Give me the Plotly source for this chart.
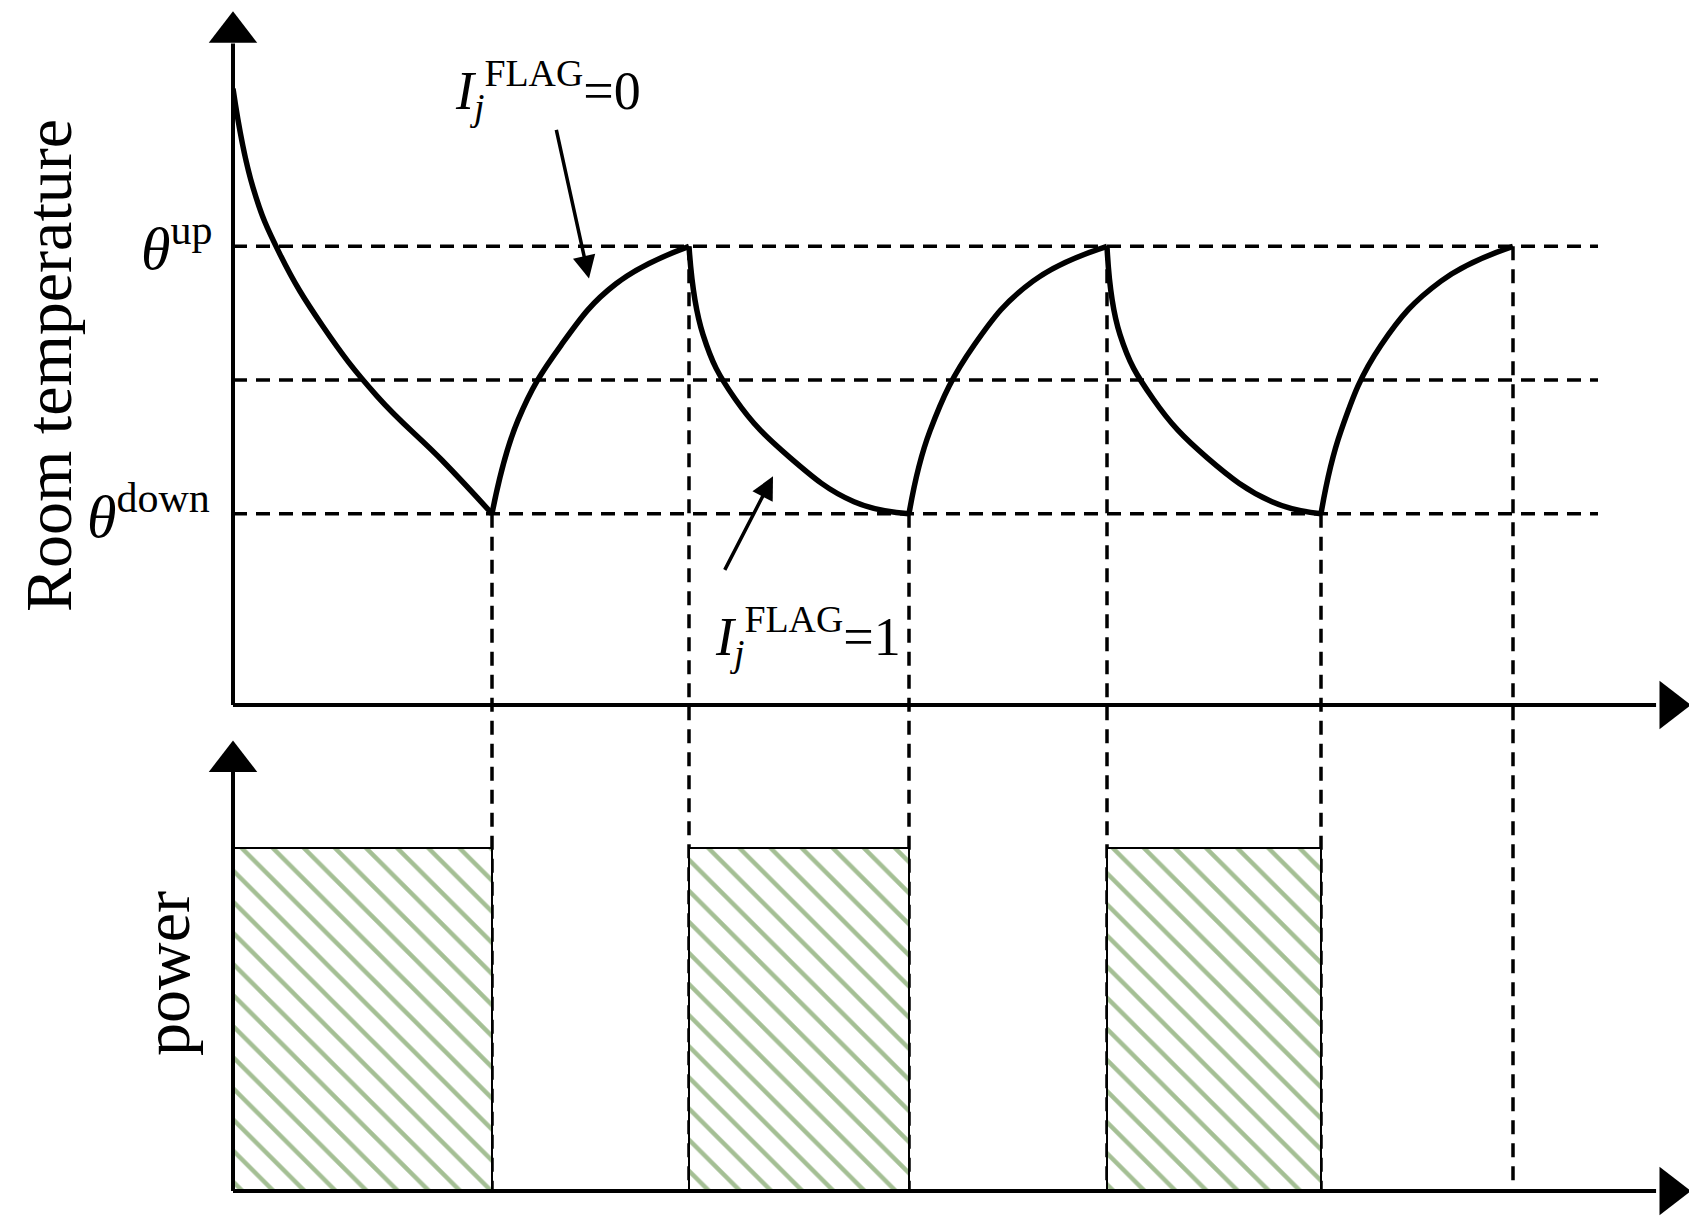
import plotly.graph_objects as go

W, H = 1697, 1220
# switching times (time units) and temperature levels (theta_down=0, theta_up=1)
t_switch = [2.59, 4.56, 6.76, 8.74, 10.88, 12.8]
switch_level = [0, 1, 0, 1, 0, 1]
levels = [1, 0.5, 0]

seg_t = [
    [0, 0.2, 0.47, 0.9, 1.44, 2.09, 2.59],
    [2.59, 2.85, 3.28, 3.83, 4.56],
    [4.56, 4.70, 5.02, 5.57, 6.21, 6.76],
    [6.76, 6.97, 7.41, 8.0, 8.74],
    [8.74, 8.87, 9.2, 9.74, 10.39, 10.88],
    [10.88, 11.08, 11.48, 12.08, 12.8],
]
seg_T = [
    [1.59, 1.22, 0.97, 0.70, 0.44, 0.20, 0],
    [0, 0.35, 0.63, 0.86, 1],
    [1, 0.67, 0.43, 0.21, 0.045, 0],
    [0, 0.31, 0.63, 0.87, 1],
    [1, 0.67, 0.43, 0.21, 0.045, 0],
    [0, 0.31, 0.63, 0.87, 1],
]
on_start = [0, 4.56, 8.74]
on_end = [2.59, 6.76, 10.88]
power_on = 1.0

XR = [0, 14.57]
TR = [-0.715, 1.85]
PR = [0, 1.297]
xd = [225 / W, 1682 / W]
td = [1 - 697 / H, 1 - 11 / H]
pd = [1 - 1183 / H, 1 - 738 / H]

def t_paper(T):
    return td[0] + (T - TR[0]) / (TR[1] - TR[0]) * (td[1] - td[0])

fig = go.Figure()
for ts, Ts in zip(seg_t, seg_T):
    fig.add_trace(go.Scatter(x=ts, y=Ts, mode="lines", line=dict(color="black", width=5.5, shape="spline", smoothing=1.2),
                             xaxis="x", yaxis="y", showlegend=False, hoverinfo="skip"))

fig.add_trace(go.Bar(x=[(a + b) / 2 for a, b in zip(on_start, on_end)], y=[power_on] * 3,
                     width=[b - a for a, b in zip(on_start, on_end)], xaxis="x2", yaxis="y2",
                     marker=dict(color="white", line=dict(color="black", width=2),
                                 pattern=dict(shape="\\", fgcolor="#4a7f2a", bgcolor="#ffffff", size=22, solidity=0.2)),
                     showlegend=False, hoverinfo="skip"))

shapes = []
dash = dict(color="black", width=3.5, dash="14px,9px")
for L in levels:
    shapes.append(dict(type="line", xref="x", yref="y", x0=0, x1=13.65, y0=L, y1=L, line=dash, layer="below"))
for ts, lv in zip(t_switch, switch_level):
    shapes.append(dict(type="line", xref="x", yref="paper", x0=ts, x1=ts, y0=t_paper(lv), y1=pd[0], line=dash, layer="below"))
ax_line = dict(color="black", width=4)
for dom in (td, pd):
    shapes.append(dict(type="line", xref="paper", yref="paper", x0=xd[0], x1=xd[1] - 0.02, y0=dom[0], y1=dom[0], line=ax_line))
    shapes.append(dict(type="line", xref="paper", yref="paper", x0=xd[0], x1=xd[0], y0=dom[0], y1=dom[1] - 0.02, line=ax_line))

for dom in (td, pd):
    top = dom is td
    fig.add_trace(go.Scatter(x=[XR[1] - 0.2], y=[TR[0] if top else 0], mode="markers",
                             xaxis="x" if top else "x2", yaxis="y" if top else "y2",
                             marker=dict(symbol="triangle-right", size=42, color="black"), showlegend=False, cliponaxis=False))
    fig.add_trace(go.Scatter(x=[0], y=[TR[1] - 0.05 if top else PR[1] - 0.045], mode="markers",
                             xaxis="x" if top else "x2", yaxis="y" if top else "y2",
                             marker=dict(symbol="triangle-up", size=42, color="black"), showlegend=False, cliponaxis=False))

serif = "Liberation Serif"
def lab(x, y, text, size, angle=0):
    return dict(xref="paper", yref="paper", x=x / W, y=1 - y / H, text=text, showarrow=False, textangle=angle,
                xanchor="center", yanchor="middle", font=dict(family=serif, size=size, color="black"))

ann = [
    lab(168, 236, "<i>θ</i><sup>up</sup>", 60),
    lab(140, 505, "<i>θ</i><sup>down</sup>", 60),
    lab(40, 358, "Room temperature", 66, -90),
    lab(158, 966, "power", 66, -90),
    lab(540, 82, "<i>I<sub>j</sub></i><sup>FLAG</sup>=0", 54),
    lab(800, 628, "<i>I<sub>j</sub></i><sup>FLAG</sup>=1", 54),
]
ann.append(dict(xref="x", yref="y", x=3.56, y=0.88, ax=-33, ay=-150, text="", showarrow=True, arrowhead=2,
                arrowsize=1.3, arrowwidth=3.5, arrowcolor="black"))
ann.append(dict(xref="x", yref="y", x=5.40, y=0.14, ax=-49, ay=95, text="", showarrow=True, arrowhead=2,
                arrowsize=1.3, arrowwidth=3.5, arrowcolor="black"))

hidden = dict(visible=False, fixedrange=True)
fig.update_layout(
    width=W, height=H, margin=dict(l=0, r=0, t=0, b=0), plot_bgcolor="white", paper_bgcolor="white",
    xaxis=dict(domain=xd, range=XR, anchor="y", **hidden),
    yaxis=dict(domain=td, range=TR, anchor="x", **hidden),
    xaxis2=dict(domain=xd, range=XR, anchor="y2", **hidden),
    yaxis2=dict(domain=pd, range=PR, anchor="x2", **hidden),
    shapes=shapes, annotations=ann, bargap=0,
)
fig.write_html("out.html")
